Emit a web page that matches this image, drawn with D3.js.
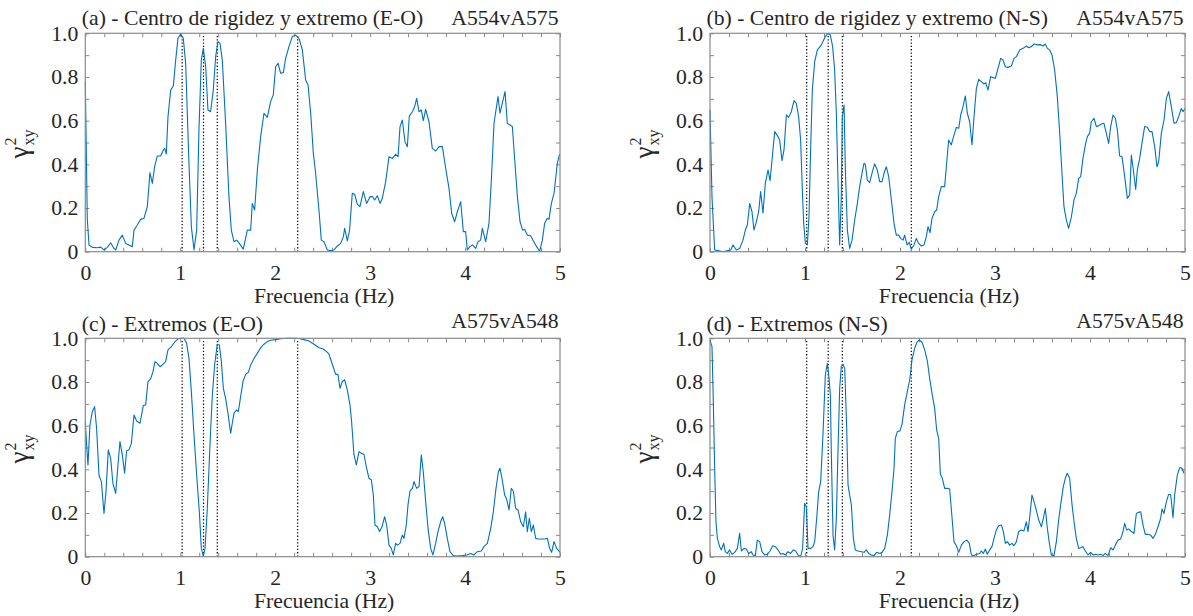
<!DOCTYPE html>
<html><head><meta charset="utf-8">
<script src="https://cdn.jsdelivr.net/npm/d3@7"></script>
<style>html,body{margin:0;padding:0;background:#fff;}</style>
</head><body>
<svg id="chart" width="1193" height="616"></svg>
<script>
// ---------------- DATA ----------------
const xTickLabels = ["0","1","2","3","4","5"];
const yTickLabels = ["0","0.2","0.4","0.6","0.8","1.0"];
const titles = ["(a) - Centro de rigidez y extremo (E-O)", "(b) - Centro de rigidez y extremo (N-S)", "(c) - Extremos (E-O)", "(d) - Extremos (N-S)"];
const pairLabels = ["A554vA575", "A554vA575", "A575vA548", "A575vA548"];
const xLabel = "Frecuencia (Hz)";

// dotted reference frequencies (Hz)
const modesA = [1.02, 1.245, 1.39, 2.237];
const modesB = [1.018, 1.244, 1.393, 2.119];
const modesC = [1.02, 1.245, 1.39, 2.237];
const modesD = [1.018, 1.244, 1.393, 2.119];

// coherence [frequency Hz, gamma^2]
const cohA = [[0,0.779],[0.021,0.15],[0.039,0.031],[0.074,0.02],[0.126,0.018],[0.162,0.021],[0.197,0.008],[0.232,0.02],[0.267,0.041],[0.302,0.015],[0.320,0.008],[0.355,0.053],[0.390,0.076],[0.425,0.038],[0.460,0.031],[0.495,0.023],[0.513,0.099],[0.548,0.122],[0.583,0.148],[0.618,0.153],[0.653,0.206],[0.681,0.362],[0.706,0.313],[0.730,0.389],[0.758,0.438],[0.794,0.438],[0.822,0.466],[0.836,0.473],[0.853,0.447],[0.871,0.618],[0.899,0.74],[0.927,0.759],[0.952,0.878],[0.976,0.977],[1.004,0.997],[1.032,0.977],[1.057,0.863],[1.092,0.405],[1.117,0.115],[1.145,0.008],[1.173,0.099],[1.197,0.557],[1.222,0.878],[1.243,0.931],[1.268,0.847],[1.292,0.649],[1.320,0.641],[1.348,0.74],[1.373,0.893],[1.397,0.962],[1.419,0.954],[1.443,0.878],[1.478,0.588],[1.513,0.252],[1.538,0.099],[1.566,0.046],[1.594,0.053],[1.622,0.038],[1.664,0.012],[1.707,0.099],[1.742,0.099],[1.759,0.221],[1.784,0.191],[1.812,0.374],[1.847,0.527],[1.882,0.634],[1.917,0.615],[1.952,0.687],[1.980,0.718],[2.005,0.847],[2.030,0.863],[2.058,0.817],[2.086,0.82],[2.110,0.885],[2.145,0.939],[2.180,0.985],[2.216,0.992],[2.251,0.977],[2.286,0.924],[2.321,0.786],[2.346,0.763],[2.374,0.634],[2.402,0.45],[2.426,0.359],[2.461,0.191],[2.486,0.053],[2.514,0.046],[2.549,0.008],[2.584,0.005],[2.619,0.008],[2.654,0.026],[2.690,0.038],[2.718,0.069],[2.732,0.107],[2.760,0.05],[2.784,0.099],[2.812,0.267],[2.837,0.263],[2.865,0.218],[2.893,0.206],[2.928,0.275],[2.963,0.221],[2.999,0.252],[3.027,0.252],[3.048,0.237],[3.076,0.256],[3.104,0.221],[3.128,0.244],[3.164,0.321],[3.199,0.435],[3.234,0.427],[3.269,0.446],[3.294,0.435],[3.315,0.573],[3.339,0.603],[3.367,0.504],[3.392,0.481],[3.413,0.621],[3.445,0.641],[3.469,0.664],[3.490,0.702],[3.515,0.641],[3.539,0.649],[3.560,0.6],[3.585,0.652],[3.620,0.595],[3.655,0.473],[3.690,0.461],[3.726,0.481],[3.761,0.481],[3.796,0.382],[3.831,0.29],[3.859,0.176],[3.890,0.137],[3.919,0.183],[3.954,0.229],[3.982,0.092],[4.006,0.092],[4.024,0.008],[4.052,0.023],[4.077,0.031],[4.112,0.015],[4.136,0.046],[4.164,0.053],[4.182,0.107],[4.217,0.046],[4.252,0.13],[4.277,0.328],[4.305,0.588],[4.347,0.71],[4.368,0.634],[4.396,0.687],[4.421,0.733],[4.445,0.588],[4.473,0.58],[4.498,0.573],[4.522,0.427],[4.551,0.252],[4.579,0.137],[4.607,0.099],[4.628,0.102],[4.656,0.076],[4.691,0.073],[4.719,0.05],[4.754,0.023],[4.786,0.002],[4.814,0.053],[4.838,0.13],[4.866,0.153],[4.884,0.148],[4.909,0.221],[4.937,0.267],[4.972,0.405],[4.996,0.447]];

const cohB = [[0,0.649],[0.021,0.25],[0.049,0.008],[0.084,0.005],[0.137,0.0],[0.189,0.005],[0.218,0.008],[0.242,0.031],[0.277,0.008],[0.312,0.015],[0.347,0.053],[0.372,0.099],[0.393,0.122],[0.418,0.221],[0.442,0.183],[0.463,0.099],[0.488,0.137],[0.512,0.183],[0.533,0.275],[0.558,0.176],[0.582,0.313],[0.611,0.374],[0.632,0.325],[0.656,0.435],[0.681,0.55],[0.716,0.527],[0.733,0.511],[0.758,0.417],[0.779,0.466],[0.804,0.626],[0.828,0.615],[0.856,0.641],[0.884,0.692],[0.909,0.679],[0.933,0.618],[0.954,0.511],[0.972,0.282],[0.986,0.13],[1.004,0.038],[1.025,0.031],[1.042,0.16],[1.06,0.481],[1.077,0.74],[1.102,0.87],[1.13,0.924],[1.165,0.942],[1.189,0.962],[1.214,0.985],[1.242,1.0],[1.267,0.992],[1.291,0.939],[1.312,0.832],[1.33,0.634],[1.347,0.328],[1.365,0.031],[1.382,0.252],[1.393,0.618],[1.411,0.672],[1.425,0.374],[1.446,0.099],[1.47,0.015],[1.495,0.053],[1.523,0.145],[1.551,0.221],[1.575,0.298],[1.6,0.359],[1.621,0.405],[1.635,0.4],[1.656,0.328],[1.681,0.316],[1.705,0.359],[1.733,0.402],[1.761,0.374],[1.786,0.321],[1.811,0.321],[1.832,0.359],[1.856,0.389],[1.881,0.344],[1.909,0.237],[1.937,0.13],[1.961,0.076],[1.986,0.076],[2.007,0.061],[2.032,0.053],[2.049,0.076],[2.074,0.031],[2.098,0.043],[2.119,0.011],[2.147,0.031],[2.172,0.061],[2.196,0.038],[2.225,0.026],[2.253,0.031],[2.277,0.069],[2.295,0.115],[2.316,0.087],[2.337,0.153],[2.365,0.183],[2.386,0.191],[2.407,0.252],[2.435,0.298],[2.47,0.298],[2.491,0.405],[2.512,0.511],[2.54,0.489],[2.568,0.534],[2.593,0.569],[2.618,0.565],[2.639,0.626],[2.663,0.664],[2.688,0.713],[2.709,0.634],[2.733,0.595],[2.758,0.489],[2.779,0.618],[2.804,0.748],[2.828,0.789],[2.856,0.779],[2.884,0.768],[2.902,0.774],[2.926,0.74],[2.954,0.802],[2.979,0.797],[3.004,0.794],[3.032,0.84],[3.06,0.885],[3.084,0.878],[3.109,0.847],[3.137,0.844],[3.172,0.85],[3.2,0.885],[3.225,0.893],[3.26,0.924],[3.295,0.931],[3.33,0.942],[3.354,0.934],[3.382,0.939],[3.411,0.951],[3.446,0.947],[3.481,0.948],[3.505,0.942],[3.53,0.951],[3.551,0.931],[3.575,0.924],[3.6,0.901],[3.628,0.832],[3.656,0.71],[3.681,0.542],[3.705,0.359],[3.726,0.206],[3.751,0.145],[3.775,0.107],[3.804,0.16],[3.832,0.237],[3.856,0.267],[3.881,0.336],[3.902,0.344],[3.926,0.427],[3.951,0.489],[3.972,0.527],[3.996,0.542],[4.014,0.595],[4.042,0.611],[4.067,0.573],[4.091,0.576],[4.119,0.585],[4.147,0.588],[4.172,0.542],[4.196,0.496],[4.218,0.573],[4.242,0.626],[4.267,0.611],[4.288,0.557],[4.312,0.438],[4.337,0.435],[4.365,0.344],[4.393,0.244],[4.418,0.26],[4.435,0.443],[4.456,0.374],[4.481,0.285],[4.498,0.374],[4.523,0.427],[4.547,0.496],[4.575,0.573],[4.604,0.57],[4.628,0.55],[4.653,0.55],[4.681,0.481],[4.705,0.389],[4.723,0.412],[4.751,0.542],[4.779,0.603],[4.804,0.702],[4.828,0.733],[4.856,0.664],[4.884,0.588],[4.909,0.591],[4.933,0.618],[4.961,0.656],[4.979,0.641],[5.0,0.656]];

const cohC = [[0,0.618],[0.014,0.511],[0.028,0.42],[0.049,0.603],[0.074,0.664],[0.098,0.687],[0.119,0.588],[0.144,0.374],[0.169,0.344],[0.197,0.198],[0.218,0.298],[0.242,0.489],[0.267,0.45],[0.291,0.336],[0.32,0.29],[0.344,0.42],[0.365,0.527],[0.39,0.466],[0.414,0.382],[0.435,0.484],[0.46,0.489],[0.485,0.519],[0.513,0.649],[0.541,0.621],[0.576,0.611],[0.611,0.692],[0.636,0.695],[0.66,0.802],[0.688,0.814],[0.713,0.847],[0.734,0.893],[0.758,0.885],[0.787,0.87],[0.811,0.878],[0.846,0.893],[0.871,0.947],[0.906,0.962],[0.941,0.982],[0.976,0.997],[1.011,1.0],[1.039,1.0],[1.067,0.977],[1.092,0.908],[1.117,0.756],[1.145,0.557],[1.173,0.374],[1.201,0.206],[1.222,0.038],[1.243,0.003],[1.261,0.038],[1.285,0.221],[1.313,0.511],[1.338,0.74],[1.362,0.878],[1.39,0.973],[1.412,0.969],[1.433,0.893],[1.454,0.771],[1.478,0.725],[1.503,0.656],[1.531,0.565],[1.548,0.611],[1.566,0.656],[1.591,0.672],[1.612,0.664],[1.636,0.733],[1.661,0.802],[1.689,0.835],[1.717,0.844],[1.742,0.878],[1.777,0.908],[1.812,0.931],[1.847,0.957],[1.882,0.973],[1.917,0.985],[1.952,0.991],[2.005,0.994],[2.058,0.998],[2.128,1.0],[2.198,1.0],[2.251,0.999],[2.303,0.994],[2.356,0.988],[2.409,0.973],[2.461,0.957],[2.507,0.951],[2.542,0.939],[2.567,0.927],[2.602,0.881],[2.637,0.835],[2.661,0.835],[2.683,0.771],[2.707,0.802],[2.732,0.81],[2.76,0.763],[2.788,0.695],[2.805,0.618],[2.83,0.466],[2.855,0.42],[2.883,0.481],[2.907,0.473],[2.935,0.469],[2.963,0.405],[2.988,0.359],[3.013,0.351],[3.034,0.282],[3.051,0.145],[3.076,0.137],[3.1,0.115],[3.125,0.137],[3.153,0.183],[3.174,0.145],[3.199,0.053],[3.223,0.038],[3.244,0.008],[3.269,0.061],[3.287,0.053],[3.315,0.061],[3.339,0.099],[3.357,0.084],[3.381,0.145],[3.399,0.237],[3.42,0.301],[3.445,0.313],[3.462,0.344],[3.49,0.313],[3.515,0.321],[3.539,0.466],[3.56,0.389],[3.585,0.252],[3.61,0.13],[3.638,0.038],[3.662,0.008],[3.69,0.061],[3.715,0.115],[3.743,0.16],[3.764,0.183],[3.785,0.153],[3.813,0.084],[3.841,0.023],[3.876,0.005],[3.919,0.003],[3.971,0.005],[4.017,0.008],[4.059,0.015],[4.094,0.008],[4.129,0.023],[4.171,0.026],[4.199,0.046],[4.235,0.061],[4.27,0.13],[4.298,0.206],[4.326,0.313],[4.351,0.389],[4.368,0.405],[4.389,0.359],[4.417,0.282],[4.438,0.264],[4.463,0.214],[4.487,0.313],[4.508,0.301],[4.533,0.221],[4.558,0.214],[4.586,0.16],[4.614,0.137],[4.638,0.206],[4.656,0.115],[4.677,0.176],[4.698,0.115],[4.719,0.145],[4.744,0.084],[4.768,0.081],[4.803,0.081],[4.838,0.081],[4.867,0.084],[4.891,0.038],[4.912,0.02],[4.937,0.069],[4.965,0.038],[5.0,0.02]];

const cohD = [[0,0.992],[0.021,0.962],[0.035,0.71],[0.049,0.405],[0.063,0.16],[0.077,0.084],[0.102,0.046],[0.119,0.031],[0.144,0.061],[0.161,0.023],[0.182,0.015],[0.207,0.031],[0.232,0.011],[0.26,0.02],[0.288,0.038],[0.312,0.107],[0.33,0.026],[0.358,0.038],[0.382,0.035],[0.407,0.015],[0.435,0.023],[0.453,0.008],[0.477,0.005],[0.498,0.076],[0.523,0.069],[0.547,0.023],[0.575,0.008],[0.604,0.011],[0.632,0.026],[0.66,0.05],[0.688,0.046],[0.716,0.031],[0.744,0.011],[0.768,0.015],[0.793,0.008],[0.821,0.023],[0.849,0.015],[0.877,0.031],[0.902,0.026],[0.926,0.008],[0.954,0.0],[0.975,0.038],[0.996,0.244],[1.014,0.229],[1.032,0.038],[1.06,0.038],[1.084,0.046],[1.102,0.069],[1.123,0.176],[1.144,0.298],[1.165,0.344],[1.189,0.557],[1.214,0.832],[1.235,0.885],[1.253,0.817],[1.267,0.74],[1.277,0.481],[1.295,0.099],[1.312,0.031],[1.33,0.176],[1.347,0.481],[1.365,0.771],[1.382,0.87],[1.4,0.881],[1.418,0.863],[1.439,0.588],[1.453,0.328],[1.47,0.282],[1.488,0.237],[1.509,0.084],[1.53,0.031],[1.558,0.026],[1.593,0.023],[1.621,0.02],[1.646,0.031],[1.67,0.015],[1.698,0.008],[1.726,0.005],[1.754,0.02],[1.786,0.015],[1.811,0.02],[1.839,0.038],[1.867,0.099],[1.891,0.191],[1.916,0.298],[1.937,0.405],[1.951,0.542],[1.972,0.573],[2.0,0.576],[2.021,0.606],[2.049,0.695],[2.077,0.756],[2.105,0.817],[2.126,0.901],[2.154,0.954],[2.182,0.985],[2.207,0.992],[2.232,0.982],[2.26,0.947],[2.288,0.896],[2.312,0.817],[2.337,0.748],[2.365,0.679],[2.386,0.58],[2.407,0.542],[2.425,0.377],[2.446,0.359],[2.47,0.313],[2.498,0.313],[2.523,0.31],[2.547,0.183],[2.568,0.069],[2.593,0.05],[2.618,0.02],[2.646,0.053],[2.674,0.069],[2.702,0.076],[2.73,0.061],[2.751,0.008],[2.779,0.005],[2.807,0.011],[2.839,0.015],[2.856,0.026],[2.877,0.015],[2.898,0.035],[2.919,0.011],[2.944,0.031],[2.968,0.046],[2.989,0.084],[3.014,0.122],[3.039,0.142],[3.067,0.145],[3.088,0.115],[3.109,0.061],[3.13,0.069],[3.154,0.053],[3.179,0.061],[3.2,0.05],[3.225,0.069],[3.249,0.115],[3.277,0.122],[3.305,0.118],[3.33,0.16],[3.347,0.115],[3.368,0.191],[3.389,0.282],[3.411,0.252],[3.439,0.206],[3.46,0.168],[3.488,0.137],[3.509,0.176],[3.53,0.221],[3.551,0.13],[3.575,0.053],[3.593,0.008],[3.621,0.005],[3.646,0.069],[3.67,0.168],[3.691,0.237],[3.719,0.321],[3.74,0.359],[3.761,0.382],[3.786,0.359],[3.811,0.237],[3.832,0.16],[3.856,0.084],[3.881,0.038],[3.902,0.041],[3.926,0.046],[3.951,0.026],[3.979,0.008],[4.007,0.02],[4.032,0.008],[4.056,0.011],[4.084,0.008],[4.112,0.011],[4.137,0.005],[4.161,0.015],[4.189,0.005],[4.218,0.041],[4.242,0.031],[4.267,0.053],[4.295,0.076],[4.323,0.081],[4.347,0.115],[4.365,0.153],[4.386,0.122],[4.407,0.127],[4.435,0.115],[4.463,0.107],[4.488,0.198],[4.512,0.203],[4.533,0.206],[4.558,0.145],[4.582,0.102],[4.611,0.102],[4.639,0.099],[4.663,0.084],[4.688,0.102],[4.716,0.137],[4.744,0.176],[4.758,0.218],[4.779,0.198],[4.804,0.252],[4.828,0.285],[4.849,0.285],[4.874,0.179],[4.891,0.282],[4.919,0.374],[4.944,0.408],[4.968,0.405],[4.989,0.382]];

// ---------------- DRAW ----------------
const FONT = "Liberation Serif";
const FS = 21.7;
const svg = d3.select("#chart");
svg.append("rect").attr("width",1193).attr("height",616).attr("fill","#fff");

const panels = [
  {data: cohA, modes: modesA, title: titles[0], pair: pairLabels[0], left: 85.3, right: 560, top: 33.3, bottom: 251.7, titleY: 24.5, pairY: 24.5},
  {data: cohB, modes: modesB, title: titles[1], pair: pairLabels[1], left: 710, right: 1185, top: 33.3, bottom: 251.7, titleY: 24.5, pairY: 24.5},
  {data: cohC, modes: modesC, title: titles[2], pair: pairLabels[2], left: 85.3, right: 560, top: 338.3, bottom: 556.7, titleY: 330.5, pairY: 328},
  {data: cohD, modes: modesD, title: titles[3], pair: pairLabels[3], left: 710, right: 1185, top: 338.3, bottom: 556.7, titleY: 330.5, pairY: 328}
];

const xLabelVals = xTickLabels.map(Number);
const yLabelVals = yTickLabels.map(Number);
const xMinor = d3.range(0, 26).map(i => i * 0.2);
const yMinor = d3.range(0, 11).map(i => i * 0.1);
const AXC = "#8a8a8a", TXT = "#262626";

function styleText(sel, size) {
  return sel.style("font-family", FONT).style("font-size", size + "px").attr("fill", TXT);
}

panels.forEach(p => {
  const x = d3.scaleLinear().domain([0,5]).range([p.left, p.right]);
  const y = d3.scaleLinear().domain([0,1]).range([p.bottom, p.top]);
  const g = svg.append("g");

  const tk = 4;
  const axes = [
    [d3.axisBottom(x).tickValues(xMinor), `translate(0,${p.bottom})`],
    [d3.axisTop(x).tickValues(xMinor), `translate(0,${p.top})`],
    [d3.axisLeft(y).tickValues(yMinor), `translate(${p.left},0)`],
    [d3.axisRight(y).tickValues(yMinor), `translate(${p.right},0)`]
  ];
  axes.forEach(([ax, tr]) => {
    const a = g.append("g").attr("transform", tr).call(ax.tickSize(-tk).tickFormat(""));
    a.select(".domain").remove();
    a.selectAll("line").attr("stroke", AXC).attr("stroke-width", 1);
  });

  const yl = g.append("g").attr("transform", `translate(${p.left},0)`)
    .call(d3.axisLeft(y).tickValues(yLabelVals).tickFormat((d,i) => yTickLabels[i]).tickSize(0).tickPadding(7));
  yl.select(".domain").remove();
  styleText(yl.selectAll("text"), FS);

  const xl = g.append("g").attr("transform", `translate(0,${p.bottom})`)
    .call(d3.axisBottom(x).tickValues(xLabelVals).tickFormat((d,i) => xTickLabels[i]).tickSize(0).tickPadding(13));
  xl.select(".domain").remove();
  styleText(xl.selectAll("text"), FS);

  g.selectAll(".mode").data(p.modes).enter().append("line")
    .attr("x1", d => x(d)).attr("x2", d => x(d))
    .attr("y1", y(0)).attr("y2", y(1))
    .attr("stroke", "#000").attr("stroke-width", 1.2)
    .attr("stroke-dasharray", "1.3,2");

  g.append("path").datum(p.data)
    .attr("fill", "none").attr("stroke", "#0072BD").attr("stroke-width", 1.1)
    .attr("stroke-linejoin", "round")
    .attr("d", d3.line().x(d => x(d[0])).y(d => y(d[1])));

  g.append("rect").attr("x", p.left).attr("y", p.top)
    .attr("width", p.right - p.left).attr("height", p.bottom - p.top)
    .attr("fill", "none").attr("stroke", AXC).attr("stroke-width", 1.2);

  styleText(g.append("text").attr("x", p.left - 3.5).attr("y", p.titleY).text(p.title), FS);
  styleText(g.append("text").attr("x", p.right - 1.5).attr("y", p.pairY).attr("text-anchor", "end").text(p.pair), FS);

  styleText(g.append("text").attr("x", (p.left + p.right) / 2 + 1.5).attr("y", p.bottom + 51)
    .attr("text-anchor", "middle").text(xLabel), FS);

  const cy = (p.top + p.bottom) / 2 + 16;
  const lg = g.append("g").attr("transform", `translate(${p.left - 57},${cy}) rotate(-90)`);
  styleText(lg.append("text").attr("x", 0).attr("y", 0).text("\u03B3"), 27);
  styleText(lg.append("text").attr("x", 13).attr("y", -12).text("2"), 16);
  styleText(lg.append("text").attr("x", 13).attr("y", 6).text("xy"), 16);
});
</script>
</body></html>
